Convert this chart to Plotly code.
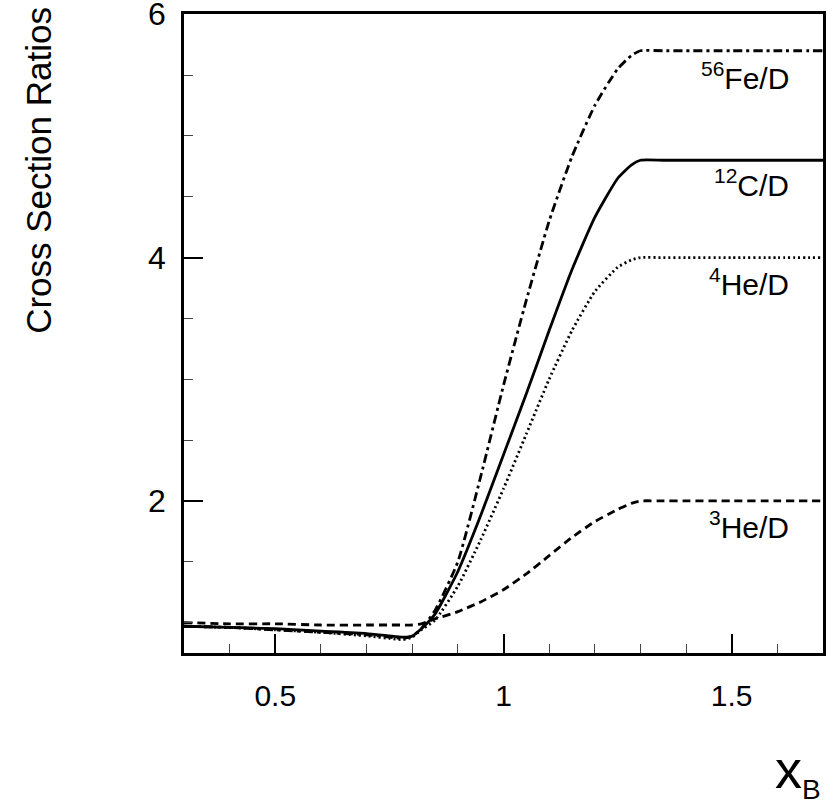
import plotly.graph_objects as go

# x grid (Bjorken x)
x_vals = [0.30, 0.40, 0.50, 0.60, 0.70, 0.75, 0.78, 0.80, 0.82, 0.85, 0.90, 0.95,
          1.00, 1.05, 1.10, 1.15, 1.20, 1.25, 1.28, 1.30, 1.35, 1.40, 1.50, 1.60, 1.70]

fe56 = [0.97, 0.96, 0.94, 0.92, 0.90, 0.88, 0.87, 0.89, 0.95, 1.10, 1.50, 2.20,
        2.95, 3.65, 4.30, 4.83, 5.25, 5.55, 5.66, 5.70, 5.70, 5.70, 5.70, 5.70, 5.70]
c12 = [0.97, 0.96, 0.95, 0.93, 0.91, 0.89, 0.88, 0.89, 0.95, 1.07, 1.42, 1.88,
       2.38, 2.88, 3.40, 3.90, 4.33, 4.65, 4.76, 4.80, 4.80, 4.80, 4.80, 4.80, 4.80]
he4 = [0.97, 0.96, 0.94, 0.92, 0.89, 0.87, 0.86, 0.88, 0.94, 1.02, 1.30, 1.68,
       2.10, 2.55, 3.00, 3.40, 3.72, 3.92, 3.98, 4.00, 4.00, 4.00, 4.00, 4.00, 4.00]
he3 = [1.00, 0.99, 0.99, 0.98, 0.98, 0.98, 0.98, 0.98, 0.99, 1.03, 1.09, 1.17,
       1.27, 1.40, 1.55, 1.70, 1.83, 1.93, 1.98, 2.00, 2.00, 2.00, 2.00, 2.00, 2.00]

labels = ["<sup>56</sup>Fe/D", "<sup>12</sup>C/D", "<sup>4</sup>He/D", "<sup>3</sup>He/D"]
label_x = [1.63, 1.63, 1.63, 1.63]
label_y = [5.49, 4.615, 3.80, 1.80]

FONT = "Liberation Sans, Arial, Helvetica, sans-serif"

fig = go.Figure()
series = [
    (fe56, "9px,4px,3px,4px"),
    (c12, "solid"),
    (he4, "2px,3px"),
    (he3, "8px,5px"),
]
for ys, dash in series:
    fig.add_trace(go.Scatter(x=x_vals, y=ys, mode="lines",
                             line=dict(color="black", width=2.8, dash=dash, shape="spline", smoothing=0.5),
                             showlegend=False, hoverinfo="skip"))

for t, lx, ly in zip(labels, label_x, label_y):
    fig.add_annotation(x=lx, y=ly, xref="x", yref="y", text=t, showarrow=False,
                       xanchor="right", yanchor="middle",
                       font=dict(family=FONT, size=30, color="black"))

# axis titles
fig.add_annotation(x=-0.227, y=0.756, xref="paper", yref="paper", text="Cross Section Ratios",
                   showarrow=False, textangle=-90, xanchor="center", yanchor="middle",
                   font=dict(family=FONT, size=35, color="black"))
fig.add_annotation(x=1.0, y=-0.186, xref="paper", yref="paper",
                   text="x<sub><span style='font-size:28px'>B</span></sub>",
                   showarrow=False, xanchor="right", yanchor="middle",
                   font=dict(family=FONT, size=54, color="black"))

fig.update_layout(
    width=833, height=805,
    margin=dict(l=184, r=10, t=14, b=152),
    plot_bgcolor="white", paper_bgcolor="white",
    font=dict(family=FONT, color="black"),
)
fig.update_xaxes(
    range=[0.3, 1.7], showgrid=False, zeroline=False, automargin=False,
    showline=True, linecolor="black", linewidth=2.7, mirror=True,
    ticks="inside", ticklen=19, tickwidth=1.5, tickcolor="black",
    tickvals=[0.5, 1.0, 1.5], ticktext=["0.5", "1", "1.5"],
    tickfont=dict(family=FONT, size=30, color="black"), ticklabelstandoff=14,
    minor=dict(ticks="inside", ticklen=9, tickwidth=1.2, tickcolor="#444", dtick=0.1, tick0=0.3, showgrid=False),
)
fig.update_yaxes(
    range=[0.75, 6.002], showgrid=False, zeroline=False, automargin=False,
    showline=True, linecolor="black", linewidth=2.7, mirror=True,
    ticks="inside", ticklen=19, tickwidth=1.5, tickcolor="black",
    tickvals=[2, 4, 6], ticktext=["2", "4", "6"], ticklabeloverflow="allow",
    tickfont=dict(family=FONT, size=32, color="black"), ticklabelstandoff=9,
    minor=dict(ticks="inside", ticklen=9, tickwidth=1.2, tickcolor="#444", dtick=0.5, tick0=0, showgrid=False),
)

fig.write_html("out.html")
